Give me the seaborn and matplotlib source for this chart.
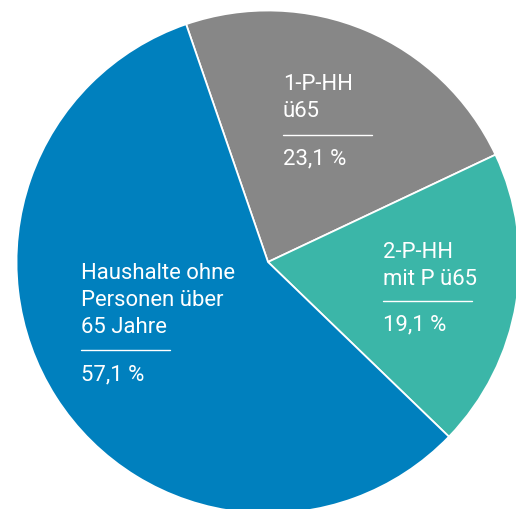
import matplotlib
matplotlib.use("Agg")
import matplotlib.pyplot as plt
from matplotlib.lines import Line2D
import seaborn as sns

# Data
categories = ["1-P-HH\nü65", "2-P-HH\nmit P ü65", "Haushalte ohne\nPersonen über\n65 Jahre"]
shares = [23.1, 19.1, 57.1]
share_labels = ["23,1 %", "19,1 %", "57,1 %"]
colors = ["#878787", "#3BB6A8", "#0080BE"]

sns.set_theme(style="white")
plt.rcParams["font.family"] = ["Roboto", "DejaVu Sans"]

W, H = 516, 510
fig = plt.figure(figsize=(W / 100, H / 100), dpi=100)
ax = fig.add_axes([0, 0, 1, 1])

cx, cy, r = 268.0, 263.0, 251.5  # pixel geometry (from top-left)
ax.pie(shares, colors=colors, startangle=109.0, counterclock=False,
       radius=1.0, center=(0, 0),
       wedgeprops=dict(edgecolor="white", linewidth=1.3))
ax.set_aspect("auto")
ax.set_xlim(-cx / r, (W - cx) / r)
ax.set_ylim(-(H - cy) / r, cy / r)
ax.axis("off")


def fx(px):
    return px / W


def fy(py):
    return 1 - py / H


# label layout: (left x, first baseline y, line-sep y, pct baseline y, line end x)
layout = [
    (283, 90, 136, 164, 372),
    (383, 258, 302, 330, 472),
    (81, 279, 351, 380, 170),
]
line_step = 26.8
fs = 15.9
for cat, pct, (lx, by, sy, py, ex) in zip(categories, share_labels, layout):
    for i, line in enumerate(cat.split("\n")):
        fig.text(fx(lx), fy(by + i * line_step), line, color="white",
                 fontsize=fs, fontweight="normal", ha="left", va="baseline")
    fig.add_artist(Line2D([fx(lx), fx(ex)], [fy(sy), fy(sy)],
                          transform=fig.transFigure, color="white", linewidth=1.0))
    fig.text(fx(lx), fy(py), pct, color="white", fontsize=fs,
             fontweight="normal", ha="left", va="baseline")

fig.savefig("out.png", dpi=100)
